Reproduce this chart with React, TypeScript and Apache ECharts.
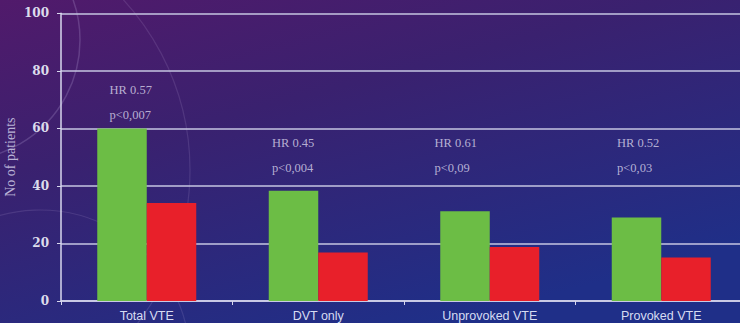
import React, { useEffect, useRef } from "react";
import * as echarts from "echarts";

const categories = ["Total VTE", "DVT only", "Unprovoked VTE", "Provoked VTE"];
const greenValues = [60, 38.3, 31.2, 29.0];
const redValues = [34.1, 16.9, 18.8, 15.1];
const yTicks = [0, 20, 40, 60, 80, 100];
const hrLabels = ["HR 0.57", "HR 0.45", "HR 0.61", "HR 0.52"];
const pLabels = ["p<0,007", "p<0,004", "p<0,09", "p<0,03"];
// annotation anchors in data units: [category position, value]
const annotX = [0.283, 1.23, 2.178, 3.242];
const annotY = [69.0, 50.4, 50.4, 50.4];

export default function App() {
  const ref = useRef<HTMLDivElement>(null);
  useEffect(() => {
    if (!ref.current) return;
    const chart = echarts.init(ref.current, undefined, { renderer: "svg" });
    const serif = "'Liberation Serif', 'DejaVu Serif', serif";
    chart.setOption({
      animation: false,
      backgroundColor: {
        type: "linear",
        x: 0,
        y: 0,
        x2: 0.6,
        y2: 1,
        colorStops: [
          { offset: 0, color: "#511a6b" },
          { offset: 0.4, color: "#3a216f" },
          { offset: 1, color: "#1f2f88" },
        ],
      },
      graphic: [
        {
          type: "circle",
          shape: { cx: -40, cy: 40, r: 120 },
          style: { fill: "none", stroke: "rgba(200,180,230,0.22)", lineWidth: 1.5 },
          silent: true,
          z: -1,
        },
        {
          type: "circle",
          shape: { cx: -60, cy: 170, r: 250 },
          style: { fill: "none", stroke: "rgba(200,180,230,0.15)", lineWidth: 1.2 },
          silent: true,
          z: -1,
        },
        {
          type: "circle",
          shape: { cx: 40, cy: 360, r: 150 },
          style: { fill: "none", stroke: "rgba(200,180,230,0.15)", lineWidth: 1.2 },
          silent: true,
          z: -1,
        },
      ],
      grid: {
        left: 61,
        top: 13.3,
        width: 686,
        bottom: 22,
        containLabel: false,
        outerBoundsMode: "none",
      },
      xAxis: [
        {
          type: "category",
          data: categories,
          axisLine: { lineStyle: { color: "#d8d8ee", width: 1.5 } },
          axisTick: { show: true, length: 4, lineStyle: { color: "#d8d8ee" } },
          axisLabel: {
            color: "#d6dcf2",
            fontFamily: "'Liberation Sans', sans-serif",
            fontSize: 12.5,
            margin: 8,
          },
        },
        { type: "value", min: 0, max: 4, show: false },
      ],
      yAxis: {
        type: "value",
        min: 0,
        max: 100,
        interval: 20,
        name: "No of patients",
        nameLocation: "middle",
        nameGap: 44,
        nameMoveOverlap: false,
        nameTextStyle: { color: "#b9b2d6", fontFamily: serif, fontSize: 14 },
        axisLine: { show: true, lineStyle: { color: "#d8d8ee", width: 1.5 } },
        axisTick: { show: true, length: 4, lineStyle: { color: "#d8d8ee" } },
        splitLine: { lineStyle: { color: "#c6c6e2", width: 1.5 } },
        axisLabel: {
          color: "#dcdcec",
          fontFamily: "'DejaVu Serif', serif",
          fontWeight: "bold",
          fontSize: 12,
          margin: 12,
          formatter: (v: number) => (yTicks.includes(v) ? String(v) : ""),
        },
      },
      series: [
        {
          type: "bar",
          data: greenValues,
          itemStyle: { color: "#6cbd45" },
          barWidth: 49.5,
          barGap: "0%",
        },
        {
          type: "bar",
          data: redValues,
          itemStyle: { color: "#e8202a" },
          barWidth: 49.5,
          barGap: "0%",
        },
        {
          type: "scatter",
          xAxisIndex: 1,
          symbolSize: 0,
          data: annotX.map((x, i) => [x, annotY[i]]),
          label: {
            show: true,
            position: [0, 0],
            align: "left",
            verticalAlign: "middle",
            color: "#d9d4ea",
            fontFamily: serif,
            fontSize: 12.5,
            lineHeight: 25,
            formatter: (p: any) => hrLabels[p.dataIndex] + "\n" + pLabels[p.dataIndex],
          },
          silent: true,
          z: 5,
        },
      ],
    });
    return () => chart.dispose();
  }, []);
  return (
    <div
      ref={ref}
      style={{ position: "fixed", left: 0, top: 0, width: 740, height: 323 }}
    />
  );
}
